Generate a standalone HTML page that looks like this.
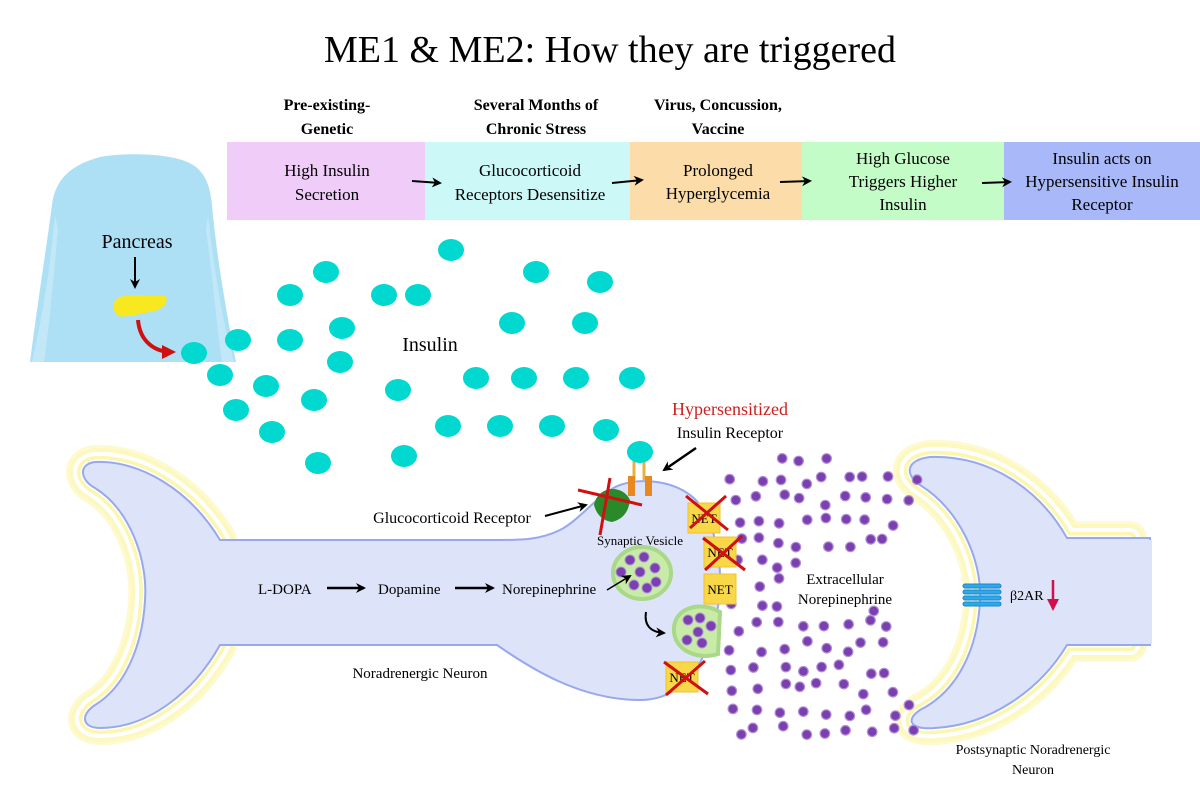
<!DOCTYPE html>
<html><head><meta charset="utf-8"><style>
html,body{margin:0;padding:0;background:#fff}
svg{display:block;font-family:"Liberation Serif",serif}
</style></head><body>
<svg id="s" width="1200" height="792" viewBox="0 0 1200 792" xmlns="http://www.w3.org/2000/svg">
<defs>
<marker id="ah" markerWidth="10" markerHeight="10" refX="8" refY="5" orient="auto" markerUnits="userSpaceOnUse"><path d="M0,0 L10,5 L0,10 L3,5 Z" fill="#000"/></marker>
<marker id="rh" markerWidth="14" markerHeight="14" refX="10" refY="7" orient="auto" markerUnits="userSpaceOnUse"><path d="M0,0 L14,7 L0,14 Z" fill="#d01010"/></marker>
</defs>
<text x="610" y="62" font-size="38" text-anchor="middle">ME1 &amp; ME2: How they are triggered</text>
<g font-size="16" font-weight="bold" text-anchor="middle">
<text x="327" y="110">Pre-existing-</text><text x="327" y="134">Genetic</text>
<text x="536" y="110">Several Months of</text><text x="536" y="134">Chronic Stress</text>
<text x="718" y="110">Virus, Concussion,</text><text x="718" y="134">Vaccine</text>
</g>
<rect x="227" y="142" width="198" height="78" fill="#f0ccf8"/>
<rect x="425" y="142" width="205" height="78" fill="#ccf8f8"/>
<rect x="630" y="142" width="172" height="78" fill="#fcdca8"/>
<rect x="802" y="142" width="202" height="78" fill="#c4fcc8"/>
<rect x="1004" y="142" width="196" height="78" fill="#a8b8f8"/>
<g font-size="17" text-anchor="middle">
<text x="327" y="176">High Insulin</text><text x="327" y="200">Secretion</text>
<text x="530" y="176">Glucocorticoid</text><text x="530" y="200">Receptors Desensitize</text>
<text x="718" y="176">Prolonged</text><text x="718" y="199">Hyperglycemia</text>
<text x="903" y="164">High Glucose</text><text x="903" y="187">Triggers Higher</text><text x="903" y="210">Insulin</text>
<text x="1102" y="164">Insulin acts on</text><text x="1102" y="187">Hypersensitive Insulin</text><text x="1102" y="210">Receptor</text>
</g>
<g stroke="#000" stroke-width="2" marker-end="url(#ah)">
<line x1="412" y1="181" x2="440" y2="183"/><line x1="612" y1="183" x2="642" y2="180"/>
<line x1="780" y1="182" x2="810" y2="181"/><line x1="982" y1="183" x2="1010" y2="182"/>
</g>
<!-- body -->
<path d="M100,157 C120,153 160,153 182,160 C205,167 210,185 212,205 C216,250 224,300 236,362 L30,362 C38,300 46,250 52,205 C55,180 70,165 100,157 Z" fill="#aee0f5"/>
<path d="M55,215 C50,270 42,320 32,362 L44,362 C50,320 54,270 58,230 Z M208,215 C214,270 222,320 234,362 L222,362 C216,320 212,270 206,230Z" fill="#c2e8f8"/>
<text x="137" y="248" font-size="20" text-anchor="middle">Pancreas</text>
<line x1="135" y1="257" x2="135" y2="287" stroke="#000" stroke-width="2" marker-end="url(#ah)"/>
<path d="M118,298 C132,292 152,298 162,295 C170,295 168,308 154,311 C142,313 128,318 118,316 C112,311 112,302 118,298 Z" fill="#f8e820"/>
<path d="M138,320 C140,342 155,352 172,352" fill="none" stroke="#d01010" stroke-width="4" marker-end="url(#rh)"/>
<g id="ins" fill="#00d8d0"></g>
<text x="430" y="351" font-size="20" text-anchor="middle">Insulin</text>
<g id="neur"></g>
<g id="pd" fill="#7b3fb0" stroke="#b090d8" stroke-width="1.2"></g>
<!-- receptors -->
<path d="M594,505 A19,19 0 0 1 630,500 Q628,518 612,522 Q598,520 594,505Z" fill="#2a8a2a"/>
<g stroke="#e8b040" stroke-width="3"><line x1="634" y1="460" x2="634" y2="480"/><line x1="644" y1="460" x2="644" y2="480"/></g>
<rect x="628" y="476" width="7" height="20" fill="#e88820"/><rect x="645" y="476" width="7" height="20" fill="#e88820"/>
<ellipse cx="640" cy="452" rx="13" ry="11" fill="#00d8d0"/>
<g stroke="#d01010" stroke-width="3"><line x1="578" y1="490" x2="642" y2="505"/><line x1="610" y1="478" x2="600" y2="535"/></g>
<line x1="696" y1="448" x2="664" y2="470" stroke="#000" stroke-width="2.5" marker-end="url(#ah)"/>
<text x="730" y="415" font-size="18" fill="#cc2020" text-anchor="middle">Hypersensitized</text>
<text x="730" y="438" font-size="16" text-anchor="middle">Insulin Receptor</text>
<text x="452" y="523" font-size="16" text-anchor="middle">Glucocorticoid Receptor</text>
<line x1="545" y1="516" x2="586" y2="505" stroke="#000" stroke-width="2" marker-end="url(#ah)"/>
<text x="640" y="545" font-size="13" text-anchor="middle">Synaptic Vesicle</text>
<ellipse cx="642" cy="573" rx="29" ry="26" fill="#c8eca8" stroke="#a8d888" stroke-width="4"/>
<path d="M720,612 C700,600 672,608 674,632 C676,652 700,660 718,654 Z" fill="#c8eca8" stroke="#a8d888" stroke-width="4"/>
<g fill="#7b3fb0" stroke="#b090d8" stroke-width="1">
<circle cx="630" cy="560" r="5"/><circle cx="644" cy="557" r="5"/><circle cx="655" cy="568" r="5"/><circle cx="621" cy="572" r="5"/><circle cx="640" cy="572" r="5"/><circle cx="656" cy="582" r="5"/><circle cx="634" cy="585" r="5"/><circle cx="647" cy="588" r="5"/>
<circle cx="688" cy="620" r="5"/><circle cx="700" cy="618" r="5"/><circle cx="711" cy="626" r="5"/><circle cx="698" cy="632" r="5"/><circle cx="687" cy="640" r="5"/><circle cx="702" cy="643" r="5"/>
</g>
<path d="M646,612 C644,625 650,632 664,633" fill="none" stroke="#000" stroke-width="2" marker-end="url(#ah)"/>
<g fill="#f8d848" stroke="#f0c030"><rect x="688" y="503" width="32" height="30"/><rect x="704" y="537" width="32" height="30"/><rect x="704" y="574" width="32" height="30"/><rect x="666" y="662" width="32" height="30"/></g>
<g font-size="13" text-anchor="middle"><text x="704" y="523">NET</text><text x="720" y="557">NET</text><text x="720" y="594">NET</text><text x="682" y="682">NET</text></g>
<g stroke="#d01010" stroke-width="3">
<line x1="686" y1="496" x2="728" y2="530"/><line x1="726" y1="496" x2="690" y2="528"/>
<line x1="703" y1="538" x2="745" y2="570"/><line x1="742" y1="536" x2="705" y2="570"/>
<line x1="664" y1="662" x2="708" y2="694"/><line x1="705" y1="661" x2="666" y2="695"/>
</g>
<text x="845" y="584" font-size="15" text-anchor="middle">Extracellular</text>
<text x="845" y="604" font-size="15" text-anchor="middle">Norepinephrine</text>
<g font-size="15"><text x="258" y="594">L-DOPA</text><text x="378" y="594">Dopamine</text><text x="502" y="594">Norepinephrine</text></g>
<g stroke="#000" stroke-width="2.5" marker-end="url(#ah)"><line x1="327" y1="588" x2="364" y2="588"/><line x1="455" y1="588" x2="493" y2="588"/></g>
<line x1="607" y1="590" x2="630" y2="576" stroke="#000" stroke-width="1.5" marker-end="url(#ah)"/>
<text x="420" y="678" font-size="15" text-anchor="middle">Noradrenergic Neuron</text>
<text x="1033" y="754" font-size="14" text-anchor="middle">Postsynaptic Noradrenergic</text>
<text x="1033" y="774" font-size="14" text-anchor="middle">Neuron</text>
<g fill="#30a8e8" stroke="#1888d0"><rect x="963" y="584" width="38" height="4" rx="2"/><rect x="963" y="590" width="38" height="4" rx="2"/><rect x="963" y="596" width="38" height="4" rx="2"/><rect x="963" y="602" width="38" height="4" rx="2"/></g>
<text x="1010" y="600" font-size="14">β2AR</text>
<line x1="1053" y1="580" x2="1053" y2="602" stroke="#d0104a" stroke-width="2.5"/>
<path d="M1047,599 L1059,599 L1053,611 Z" fill="#d0104a"/>
</svg>
<script>
var NS="http://www.w3.org/2000/svg";
function el(t,a,p){var e=document.createElementNS(NS,t);for(var k in a)e.setAttribute(k,a[k]);p.appendChild(e);return e;}
var ins=[[451,250],[326,272],[536,272],[600,282],[290,295],[384,295],[418,295],[238,340],[290,340],[342,328],[512,323],[585,323],[194,353],[220,375],[266,386],[340,362],[314,400],[398,390],[476,378],[524,378],[576,378],[632,378],[236,410],[272,432],[318,463],[404,456],[448,426],[500,426],[552,426],[606,430]];
var g=document.getElementById('ins');ins.forEach(function(p){el('ellipse',{cx:p[0],cy:p[1],rx:13,ry:11},g);});
var pre="M220,540 C190,490 140,460 95,462 C78,464 80,480 95,488 C130,510 148,560 145,600 C143,640 128,685 95,705 C80,715 82,728 100,728 C150,728 195,690 220,645 L497,645 C530,668 580,700 640,700 C690,700 715,650 720,590 C722,540 705,505 690,495 C670,480 640,478 620,485 C600,492 580,520 560,530 C540,540 520,540 500,540 Z";
var post="M1067,538 C1040,490 990,455 930,457 C905,460 905,475 920,485 C960,510 982,560 980,600 C978,645 960,690 920,710 C905,720 910,730 935,728 C990,725 1040,690 1067,645 L1150,645 L1150,538 Z";
var n=document.getElementById('neur');
var preG="M220,540 C190,490 140,460 95,462 C78,464 80,480 95,488 C130,510 148,560 145,600 C143,640 128,685 95,705 C80,715 82,728 100,728 C150,728 195,690 220,645 Z";
var postG="M1067,538 C1040,490 990,455 930,457 C905,460 905,475 920,485 C960,510 982,560 980,600 C978,645 960,690 920,710 C905,720 910,730 935,728 C990,725 1040,690 1067,645 L1130,645 L1130,538 Z";
[preG,postG].forEach(function(d){
 el('path',{d:d,fill:'none',stroke:'#fdfad0','stroke-width':34,'stroke-linejoin':'round'},n);
 el('path',{d:d,fill:'none',stroke:'#fcf8c0','stroke-width':28,'stroke-linejoin':'round'},n);
 el('path',{d:d,fill:'none',stroke:'#fff','stroke-width':20,'stroke-linejoin':'round'},n);
 el('path',{d:d,fill:'none',stroke:'#fbf6b0','stroke-width':12,'stroke-linejoin':'round'},n);
 el('path',{d:d,fill:'none',stroke:'#fff','stroke-width':5,'stroke-linejoin':'round'},n);
});
el('path',{d:pre,fill:'#dde3f8',stroke:'#98a8ec','stroke-width':2},n);
el('path',{d:post,fill:'#dde3f8',stroke:'#98a8ec','stroke-width':2},n);
el('rect',{x:1140,y:540,width:12,height:104,fill:'#dde3f8'},n);
var s=7;function r(){s=(s*16807)%2147483647;return s/2147483647;}
var pd=document.getElementById('pd');
for(var y=458;y<740;y+=21){for(var x=735;x<960;x+=22){
 var px=x+(r()-0.5)*14,py=y+(r()-0.5)*12;
 var cx=Math.max(0,1-Math.pow((py-600)/150,2));
 var lim=905+55*(1-Math.sqrt(cx));
 if(px>lim-8)continue;
 var left=740-20*Math.sqrt(cx);
 if(px<left&&!(py>605&&py<680&&px>715))continue;
 if(px>790&&px<905&&py>566&&py<610)continue;
 if(py<470&&(px<765||px>840))continue;
 el('circle',{cx:px.toFixed(1),cy:py.toFixed(1),r:4.8},pd);
}}
</script>
</body></html>
